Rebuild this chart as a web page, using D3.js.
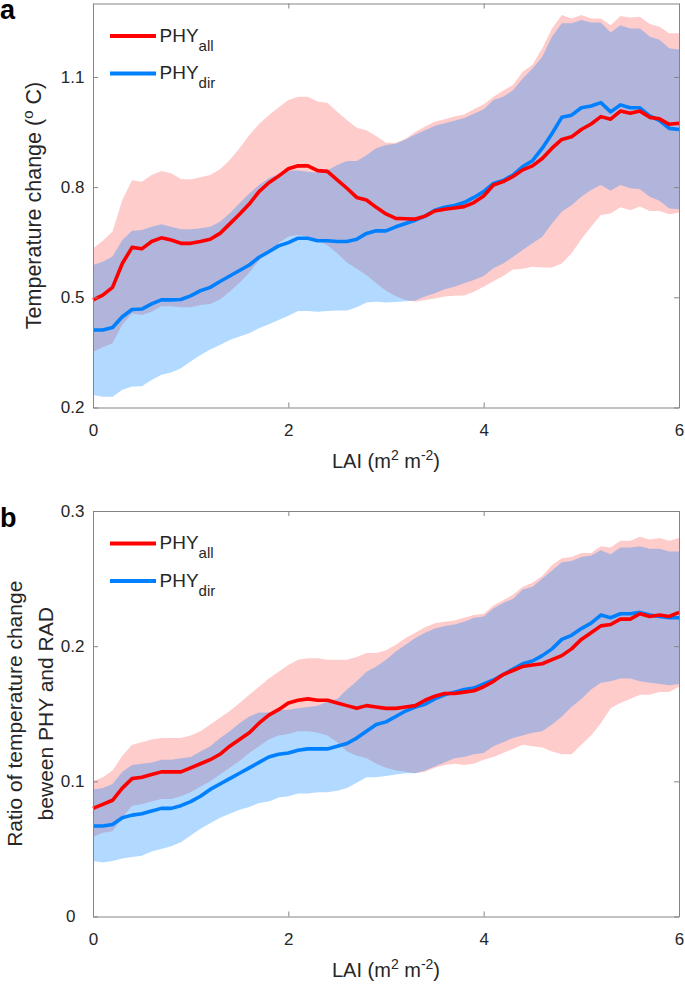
<!DOCTYPE html>
<html>
<head>
<meta charset="utf-8">
<script src="https://cdn.jsdelivr.net/npm/d3@7"></script>
<style>
  html, body { margin: 0; padding: 0; background: #fff; }
  svg { display: block; }
  text { font-family: "Liberation Sans", Arial, Helvetica, sans-serif; fill: #262626; }
</style>
</head>
<body>
<svg id="chart" width="685" height="984"></svg>
<script>
// ---------------- DATA ----------------
const lai = [0.0,0.1,0.2,0.3,0.4,0.5,0.6,0.7,0.8,0.9,
             1.0,1.1,1.2,1.3,1.4,1.5,1.6,1.7,1.8,1.9,
             2.0,2.1,2.2,2.3,2.4,2.5,2.6,2.7,2.8,2.9,
             3.0,3.1,3.2,3.3,3.4,3.5,3.6,3.7,3.8,3.9,
             4.0,4.1,4.2,4.3,4.4,4.5,4.6,4.7,4.8,4.9,
             5.0,5.1,5.2,5.3,5.4,5.5,5.6,5.7,5.8,5.9,6.0];

// Panel a: temperature change (oC)
const aAllMean = [0.493,0.506,0.527,0.592,0.636,0.632,0.652,0.662,0.656,0.647,
                  0.647,0.652,0.658,0.674,0.700,0.726,0.754,0.788,0.812,0.830,
                  0.850,0.858,0.858,0.845,0.843,0.820,0.797,0.772,0.765,0.745,
                  0.727,0.715,0.714,0.713,0.721,0.735,0.740,0.743,0.747,0.758,
                  0.776,0.806,0.815,0.829,0.847,0.858,0.878,0.906,0.930,0.937,
                  0.957,0.972,0.992,0.985,1.007,1.001,1.007,0.990,0.986,0.971,0.974];
const aAllUpper = [0.633,0.654,0.679,0.765,0.819,0.815,0.833,0.844,0.838,0.822,
                   0.821,0.827,0.833,0.849,0.874,0.906,0.942,0.972,0.996,1.017,
                   1.037,1.046,1.046,1.033,1.030,1.005,0.983,0.962,0.955,0.939,
                   0.921,0.921,0.932,0.950,0.965,0.978,0.985,0.992,0.998,1.012,
                   1.026,1.046,1.063,1.078,1.114,1.133,1.178,1.232,1.269,1.259,
                   1.269,1.259,1.259,1.241,1.266,1.262,1.264,1.244,1.237,1.219,1.219];
const aAllLower = [0.352,0.364,0.375,0.425,0.456,0.452,0.461,0.476,0.476,0.473,
                   0.473,0.479,0.482,0.494,0.515,0.540,0.567,0.600,0.625,0.648,
                   0.665,0.670,0.665,0.655,0.642,0.620,0.595,0.578,0.560,0.538,
                   0.518,0.503,0.493,0.488,0.493,0.497,0.502,0.504,0.505,0.515,
                   0.529,0.544,0.558,0.576,0.578,0.583,0.581,0.581,0.592,0.620,
                   0.658,0.692,0.724,0.728,0.745,0.737,0.747,0.735,0.735,0.726,0.730];
const aDirMean = [0.411,0.411,0.418,0.447,0.467,0.468,0.482,0.493,0.493,0.494,
                  0.504,0.518,0.527,0.543,0.558,0.573,0.588,0.609,0.624,0.640,
                  0.649,0.661,0.661,0.654,0.654,0.652,0.652,0.658,0.674,0.681,
                  0.681,0.692,0.701,0.710,0.721,0.737,0.745,0.750,0.758,0.772,
                  0.788,0.810,0.818,0.833,0.856,0.872,0.906,0.946,0.990,0.996,
                  1.016,1.021,1.030,1.005,1.024,1.016,1.016,0.994,0.981,0.960,0.957];
const aDirUpper = [0.588,0.597,0.611,0.656,0.681,0.683,0.692,0.699,0.692,0.685,
                   0.685,0.688,0.692,0.706,0.729,0.756,0.783,0.806,0.824,0.836,
                   0.845,0.845,0.842,0.840,0.845,0.860,0.871,0.871,0.887,0.906,
                   0.915,0.918,0.930,0.943,0.955,0.967,0.974,0.981,0.988,1.000,
                   1.012,1.037,1.046,1.064,1.096,1.123,1.155,1.210,1.246,1.246,
                   1.255,1.248,1.248,1.221,1.241,1.232,1.232,1.210,1.201,1.178,1.175];
const aDirLower = [0.234,0.229,0.229,0.248,0.257,0.258,0.275,0.289,0.295,0.307,
                   0.325,0.343,0.358,0.370,0.384,0.393,0.402,0.416,0.427,0.438,
                   0.450,0.463,0.463,0.461,0.463,0.464,0.464,0.473,0.486,0.488,
                   0.486,0.487,0.489,0.491,0.502,0.511,0.522,0.529,0.538,0.547,
                   0.558,0.579,0.592,0.610,0.629,0.647,0.665,0.701,0.733,0.751,
                   0.774,0.792,0.806,0.790,0.806,0.797,0.794,0.774,0.763,0.742,0.740];

// Panel b: ratio of temperature change between PHY and RAD
const bAllMean = [0.080,0.083,0.086,0.095,0.102,0.103,0.105,0.107,0.107,0.107,
                  0.110,0.113,0.116,0.120,0.126,0.131,0.136,0.143,0.149,0.153,
                  0.158,0.160,0.161,0.160,0.160,0.158,0.156,0.154,0.156,0.155,
                  0.154,0.154,0.155,0.156,0.160,0.163,0.165,0.165,0.166,0.167,
                  0.170,0.174,0.179,0.182,0.185,0.186,0.187,0.190,0.193,0.198,
                  0.205,0.210,0.215,0.216,0.220,0.220,0.224,0.222,0.223,0.222,0.225];
const bAllUpper = [0.100,0.103,0.108,0.119,0.127,0.129,0.131,0.132,0.132,0.132,
                   0.134,0.137,0.142,0.147,0.152,0.158,0.164,0.170,0.176,0.181,
                   0.186,0.190,0.191,0.191,0.190,0.190,0.190,0.192,0.195,0.195,
                   0.197,0.201,0.206,0.210,0.214,0.217,0.218,0.219,0.221,0.223,
                   0.224,0.230,0.234,0.238,0.244,0.247,0.252,0.260,0.265,0.266,
                   0.269,0.269,0.274,0.273,0.278,0.278,0.281,0.279,0.280,0.278,0.280];
const bAllLower = [0.059,0.062,0.063,0.073,0.082,0.083,0.085,0.087,0.087,0.089,
                   0.092,0.096,0.100,0.105,0.110,0.115,0.121,0.126,0.131,0.134,
                   0.135,0.137,0.137,0.136,0.134,0.129,0.122,0.119,0.117,0.113,
                   0.110,0.108,0.107,0.106,0.107,0.110,0.112,0.113,0.112,0.113,
                   0.116,0.118,0.121,0.124,0.127,0.126,0.125,0.122,0.120,0.120,
                   0.127,0.134,0.143,0.154,0.158,0.161,0.164,0.164,0.166,0.166,0.170];
const bDirMean = [0.067,0.067,0.068,0.073,0.075,0.076,0.078,0.080,0.080,0.082,
                  0.085,0.089,0.094,0.098,0.102,0.106,0.110,0.114,0.118,0.120,
                  0.121,0.123,0.124,0.124,0.124,0.126,0.128,0.132,0.137,0.142,
                  0.144,0.148,0.152,0.155,0.157,0.161,0.164,0.166,0.168,0.169,
                  0.172,0.175,0.179,0.183,0.187,0.189,0.193,0.198,0.205,0.208,
                  0.213,0.217,0.223,0.221,0.224,0.224,0.225,0.223,0.222,0.221,0.221];
const bDirUpper = [0.094,0.095,0.098,0.107,0.112,0.113,0.114,0.116,0.116,0.117,
                   0.118,0.122,0.126,0.132,0.137,0.143,0.148,0.151,0.151,0.153,
                   0.153,0.154,0.155,0.156,0.159,0.161,0.168,0.174,0.181,0.185,
                   0.190,0.196,0.201,0.206,0.210,0.213,0.215,0.216,0.218,0.221,
                   0.222,0.228,0.232,0.235,0.242,0.244,0.250,0.256,0.262,0.263,
                   0.266,0.267,0.271,0.268,0.273,0.273,0.274,0.272,0.272,0.270,0.270];
const bDirLower = [0.041,0.040,0.041,0.043,0.044,0.045,0.048,0.050,0.052,0.055,
                   0.060,0.065,0.069,0.073,0.076,0.079,0.081,0.084,0.085,0.088,
                   0.089,0.091,0.091,0.092,0.092,0.093,0.095,0.099,0.103,0.103,
                   0.104,0.105,0.106,0.106,0.108,0.111,0.114,0.117,0.118,0.120,
                   0.121,0.126,0.129,0.132,0.134,0.136,0.137,0.142,0.148,0.155,
                   0.161,0.168,0.173,0.174,0.176,0.176,0.174,0.173,0.172,0.171,0.172];

const xTicks = [0, 2, 4, 6];
const xTickLabels = ["0", "2", "4", "6"];
const aYTicks = [0.2, 0.5, 0.8, 1.1];
const aYTickLabels = ["0.2", "0.5", "0.8", "1.1"];
const bYTicks = [0, 0.1, 0.2, 0.3];
const bYTickLabels = ["0", "0.1", "0.2", "0.3"];
const seriesNames = ["all", "dir"];

// ---------------- STYLE / LAYOUT ----------------
const RED = "#ff0000", BLUE = "#0080ff", AXIS = "#858585";
const X0 = 93, X1 = 679;
const panels = [
  { letter: "a", top: 3.5, bottom: 407.5, domain: [0.2, 1.3], ticks: aYTicks, tickLabels: aYTickLabels,
    all: [aAllMean, aAllLower, aAllUpper], dir: [aDirMean, aDirLower, aDirUpper] },
  { letter: "b", top: 511, bottom: 916.5, domain: [0, 0.3], ticks: bYTicks, tickLabels: bYTickLabels,
    all: [bAllMean, bAllLower, bAllUpper], dir: [bDirMean, bDirLower, bDirUpper] }
];

const svg = d3.select("#chart");
const x = d3.scaleLinear().domain([0, 6]).range([X0, X1]);

panels.forEach((p, pi) => {
  const y = d3.scaleLinear().domain(p.domain).range([p.bottom, p.top]);
  const g = svg.append("g");

  const area = (lo, hi) => d3.area().x((d, i) => x(lai[i])).y0((d, i) => y(lo[i])).y1((d, i) => y(hi[i]))(lai);
  const line = (m) => d3.line().x((d, i) => x(lai[i])).y((d, i) => y(m[i]))(lai);

  g.append("path").attr("d", area(p.all[1], p.all[2])).attr("fill", RED).attr("fill-opacity", 0.2);
  g.append("path").attr("d", area(p.dir[1], p.dir[2])).attr("fill", BLUE).attr("fill-opacity", 0.3);
  g.append("path").attr("d", line(p.dir[0])).attr("fill", "none").attr("stroke", BLUE)
    .attr("stroke-width", 3.6).attr("stroke-linejoin", "round");
  g.append("path").attr("d", line(p.all[0])).attr("fill", "none").attr("stroke", RED)
    .attr("stroke-width", 3.6).attr("stroke-linejoin", "round");

  // axes (box with inward ticks)
  const fmtX = (d) => xTickLabels[xTicks.indexOf(d)];
  const fmtY = (d) => p.tickLabels[p.ticks.indexOf(d)];
  const styleAxis = (sel) => {
    sel.select(".domain").attr("stroke", AXIS).attr("stroke-width", 1);
    sel.selectAll(".tick line").attr("stroke", AXIS);
    sel.selectAll(".tick text").attr("fill", "#262626").style("font-size", "17px")
      .style("font-family", "'Liberation Sans', Arial, sans-serif");
  };
  g.append("g").attr("transform", `translate(0,${p.bottom})`)
    .call(d3.axisBottom(x).tickValues(xTicks).tickFormat(fmtX).tickSizeInner(-5).tickSizeOuter(0).tickPadding(16))
    .call(styleAxis);
  g.append("g").attr("transform", `translate(0,${p.top})`)
    .call(d3.axisTop(x).tickValues(xTicks).tickFormat("").tickSizeInner(-5).tickSizeOuter(0))
    .call(styleAxis);
  const yAx = g.append("g").attr("transform", `translate(${X0},0)`)
    .call(d3.axisLeft(y).tickValues(p.ticks).tickFormat(fmtY).tickSizeInner(-5).tickSizeOuter(0).tickPadding(8.5))
    .call(styleAxis);
  // the zero label in the reference sits a little further left than the others
  yAx.selectAll(".tick text").filter((d) => d === 0).attr("dx", -9);
  g.append("g").attr("transform", `translate(${X1},0)`)
    .call(d3.axisRight(y).tickValues(p.ticks).tickFormat("").tickSizeInner(-5).tickSizeOuter(0))
    .call(styleAxis);

  // x label
  const xl = g.append("text").attr("x", (X0 + X1) / 2).attr("y", p.bottom + 60)
    .attr("text-anchor", "middle").style("font-size", "20px");
  xl.append("tspan").text("LAI (m");
  xl.append("tspan").attr("dy", -8).style("font-size", "14px").text("2");
  xl.append("tspan").attr("dy", 8).text(" m");
  xl.append("tspan").attr("dy", -8).style("font-size", "14px").text("-2");
  xl.append("tspan").attr("dy", 8).text(")");

  // y label
  const cy = (p.top + p.bottom) / 2;
  if (pi === 0) {
    const yl = g.append("text").attr("transform", `translate(40.5,${cy}) rotate(-90)`)
      .attr("text-anchor", "middle").style("font-size", "21.5px");
    yl.append("tspan").text("Temperature change (");
    yl.append("tspan").attr("dy", -8).style("font-size", "15px").text("o");
    yl.append("tspan").attr("dy", 8).text(" C)");
  } else {
    g.append("text").attr("transform", `translate(22,${cy}) rotate(-90)`)
      .attr("text-anchor", "middle").style("font-size", "21px").text("Ratio of temperature change");
    g.append("text").attr("transform", `translate(53,${cy}) rotate(-90)`)
      .attr("text-anchor", "middle").style("font-size", "21px").text("beween PHY and RAD");
  }

  // panel letter
  g.append("text").attr("x", 0).attr("y", p.top + 15.5).style("font-size", "27px")
    .style("font-weight", "bold").style("fill", "#000").text(p.letter);

  // legend
  [RED, BLUE].forEach((c, k) => {
    const ly = p.top + 32.5 + k * 37.5;
    g.append("line").attr("x1", 110).attr("x2", 156).attr("y1", ly).attr("y2", ly)
      .attr("stroke", c).attr("stroke-width", 4);
    const t = g.append("text").attr("x", 159.5).attr("y", ly + 5.5).style("font-size", "19px");
    t.append("tspan").text("PHY");
    t.append("tspan").attr("dy", 9).style("font-size", "15px").text(seriesNames[k]);
  });
});
</script>
</body>
</html>
